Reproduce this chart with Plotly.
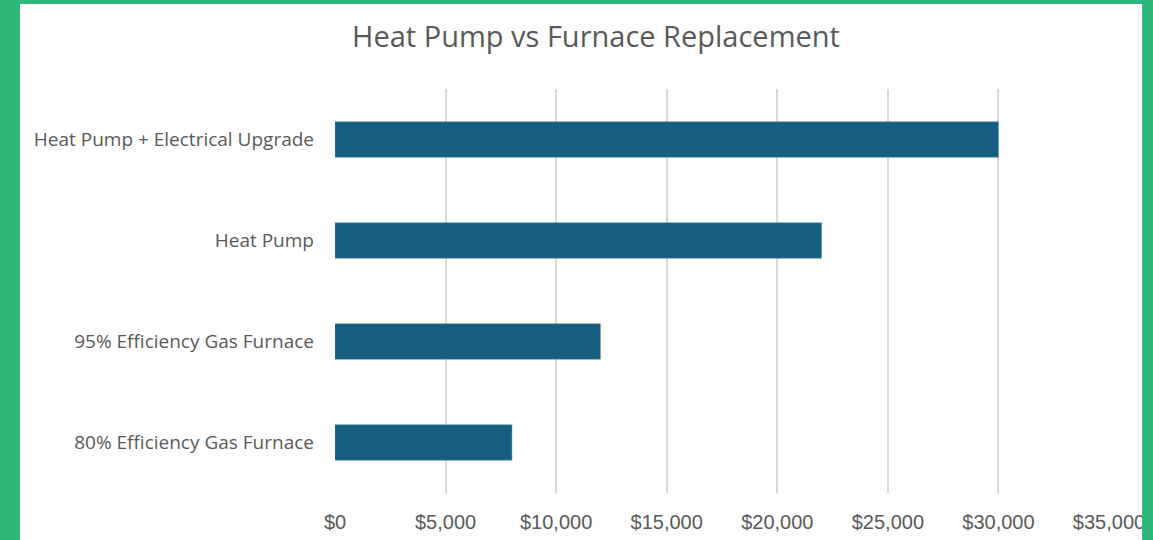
import plotly.graph_objects as go

categories = ["80% Efficiency Gas Furnace", "95% Efficiency Gas Furnace", "Heat Pump", "Heat Pump + Electrical Upgrade"]
costs = [8000, 12000, 22000, 30000]
tick_values = [0, 5000, 10000, 15000, 20000, 25000, 30000, 35000]
tick_labels = ["$0", "$5,000", "$10,000", "$15,000", "$20,000", "$25,000", "$30,000", "$35,000"]

W, H = 1153, 540
L, R, T, B = 335, 44, 89, 47
pw, ph = W - L - R, H - T - B
GREEN = "#2EB87A"

def px_x(p):
    return (p - L) / pw

def px_y(p):
    return (H - B - p) / ph

fig = go.Figure(go.Bar(
    x=costs, y=categories, orientation="h",
    marker=dict(color="#165E80", line=dict(color="#4d86a3", width=0.5)),
    width=0.35,
))

fig.update_layout(
    width=W, height=H,
    margin=dict(l=L, r=R, t=T, b=B, autoexpand=False),
    paper_bgcolor=GREEN,
    plot_bgcolor="rgba(0,0,0,0)",
    showlegend=False,
    title=dict(text="Heat Pump vs Furnace Replacement", x=(596) / W, xanchor="center",
               y=1 - 37 / H, yanchor="middle", yref="container", xref="container",
               font=dict(family="Open Sans", size=29, color="#595959")),
    shapes=[dict(type="rect", xref="paper", yref="paper", layer="below",
                 x0=px_x(20), x1=px_x(1142), y0=px_y(560), y1=px_y(4),
                 fillcolor="white", line=dict(width=0)),
            dict(type="rect", xref="paper", yref="paper", layer="above",
                 x0=px_x(1142), x1=px_x(1160), y0=px_y(560), y1=px_y(-10),
                 fillcolor=GREEN, line=dict(width=0))],
    xaxis=dict(range=[0, 35000], tickvals=tick_values, ticktext=tick_labels,
               showgrid=True, gridcolor="#D9D9D9", gridwidth=2, zeroline=False,
               showline=False, ticks="", ticklabelstandoff=15, automargin=False,
               tickfont=dict(family="Liberation Sans", size=20, color="#595959")),
    yaxis=dict(showgrid=False, showline=False, ticks="", ticklabelstandoff=20,
               range=[-0.5, 3.5], automargin=False,
               tickfont=dict(family="Open Sans", size=19, color="#595959")),
)

fig.write_html("out.html", config={"displayModeBar": False},
               post_script="document.body.style.margin='0';document.body.style.overflow='hidden';")
